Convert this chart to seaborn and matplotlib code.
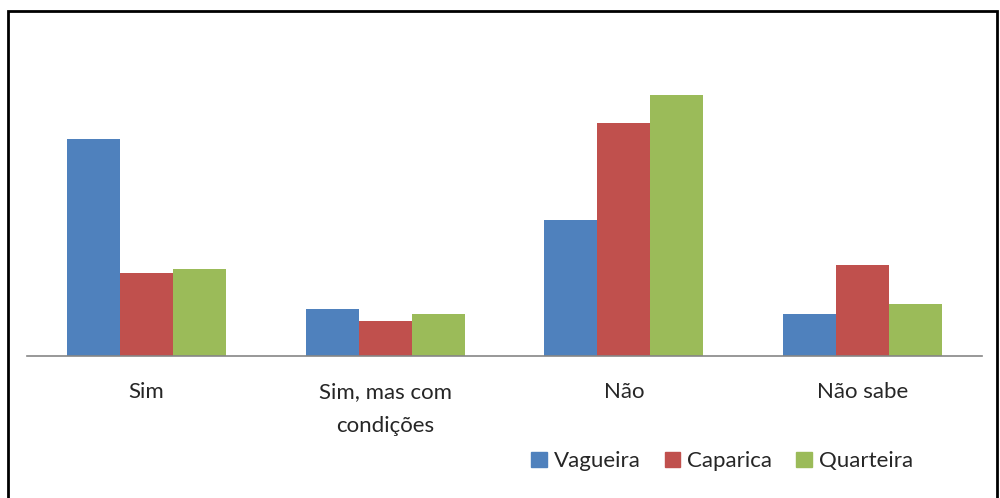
import seaborn as sns
import matplotlib.pyplot as plt
import matplotlib.patches as mpatches
import pandas as pd

# answers and percentages per location
categories = ['Sim', 'Sim, mas com\ncondições', 'Não', 'Não sabe']
locations = ['Vagueira', 'Caparica', 'Quarteira']
vagueira = [49.1, 10.6, 30.8, 9.5]
caparica = [18.8, 7.9, 52.8, 20.5]
quarteira = [19.7, 9.5, 59.0, 11.8]
colors = ['#4F81BD', '#C0504D', '#9BBB59']

df = pd.DataFrame({
    'resposta': categories * 3,
    'local': [l for l in locations for _ in categories],
    'valor': vagueira + caparica + quarteira,
})

sns.set_style('white')
plt.rcParams['font.family'] = ['Lato', 'DejaVu Sans']

fig = plt.figure(figsize=(10, 4.98), dpi=100)
ax = fig.add_axes([0.027, 0.285, 0.955, 0.655])
sns.barplot(data=df, x='resposta', y='valor', hue='local', order=categories,
            hue_order=locations, palette=colors, width=0.667, gap=0,
            saturation=1, edgecolor='none', linewidth=0, ax=ax)

ax.set_ylim(0, 73.8)
ax.set_xlim(-0.5, 3.5)
ax.set_xlabel('')
ax.set_ylabel('')
ax.set_yticks([])
for s in ['top', 'right', 'left']:
    ax.spines[s].set_visible(False)
ax.spines['bottom'].set_color('#868686')
ax.spines['bottom'].set_linewidth(1.2)
ax.tick_params(axis='x', length=0, pad=19)
for t in ax.get_xticklabels():
    t.set_fontsize(16)
    t.set_linespacing(1.85)
    t.set_verticalalignment('top')

ax.get_legend().remove()
handles = [mpatches.Patch(color=c, label=l) for c, l in zip(colors, locations)]
fig.legend(handles=handles, loc='center', bbox_to_anchor=(0.722, 0.074),
           ncol=3, frameon=False, fontsize=16, handlelength=0.7,
           handleheight=0.7, handletextpad=0.3, columnspacing=1.1)

# outer frame
fig.add_artist(mpatches.Rectangle((0.0075, -0.02), 0.989, 0.997,
                                  transform=fig.transFigure, fill=False,
                                  edgecolor='black', linewidth=2))

fig.savefig('out.png', dpi=100)
